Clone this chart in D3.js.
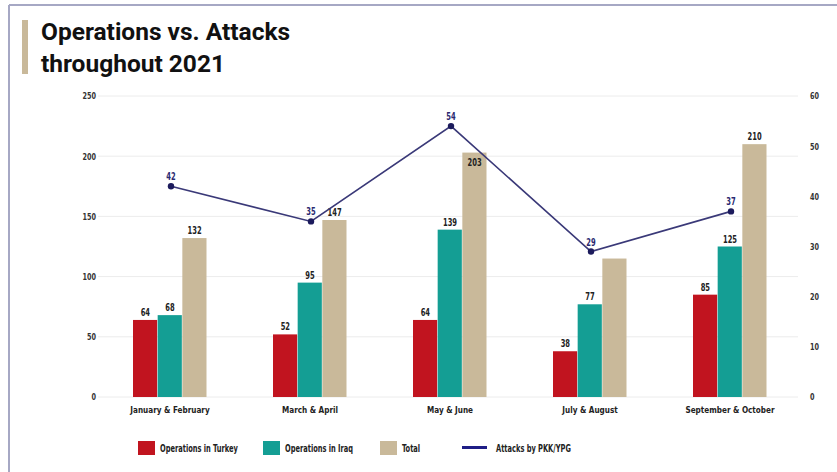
<!DOCTYPE html>
<html><head><meta charset="utf-8">
<script src="https://cdn.jsdelivr.net/npm/d3@7"></script>
<style>
body{margin:0;background:#fff;}
svg{display:block;}
.small{font-family:"DejaVu Sans";font-stretch:condensed;font-weight:bold;}
</style></head><body>
<svg id="c" width="837" height="472"></svg>
<script>
const categories = ["January & February","March & April","May & June","July & August","September & October"];
const opsTurkey = [64,52,64,38,85];
const opsIraq = [68,95,139,77,125];
const total = [132,147,203,115,210];
const attacks = [42,35,54,29,37];
const leftTicks = [0,50,100,150,200,250];
const rightTicks = [0,10,20,30,40,50,60];
const seriesNames = ["Operations in Turkey","Operations in Iraq","Total","Attacks by PKK/YPG"];
const colors = ["#c1141f","#149e94","#c9b99a","#2a2970"];

const svg = d3.select("#c");
function condense(sel, f){
  sel.each(function(){
    const w = this.getComputedTextLength();
    d3.select(this).attr("textLength", w*f).attr("lengthAdjust","spacingAndGlyphs");
  });
}
// frame
svg.append("line").attr("x1",9).attr("x2",837).attr("y1",5).attr("y2",5).attr("stroke","#a6a8c4").attr("stroke-width",2);
svg.append("line").attr("x1",9).attr("x2",9).attr("y1",5).attr("y2",472).attr("stroke","#a6a8c4").attr("stroke-width",2);
// title
svg.append("rect").attr("x",22).attr("y",20).attr("width",6).attr("height",54).attr("fill","#c9b99a");
const title = svg.append("text").attr("font-family","Roboto").attr("font-weight","bold").attr("font-size",24.5).attr("fill","#111");
title.append("tspan").attr("x",41).attr("y",40).text("Operations vs. Attacks");
title.append("tspan").attr("x",41).attr("y",72).text("throughout 2021");

const x0 = 98, x1 = 798, yTop = 96, yBot = 397;
const x = d3.scaleBand().domain(categories).range([100,800]).paddingInner(0).paddingOuter(0);
const xs = d3.scaleBand().domain([0,1,2]).range([0,74]).padding(0);
const yL = d3.scaleLinear().domain([0,250]).range([yBot,yTop]);
const yR = d3.scaleLinear().domain([0,60]).range([yBot,yTop]);

// grid
svg.append("g").selectAll("line").data(leftTicks).join("line")
  .attr("x1",x0).attr("x2",x1).attr("y1",d=>yL(d)).attr("y2",d=>yL(d))
  .attr("stroke","#ececec").attr("stroke-width",1);

const axL = svg.append("g").attr("transform",`translate(${x0-2},0)`)
  .call(d3.axisLeft(yL).tickValues(leftTicks).tickSize(0).tickPadding(0));
axL.select(".domain").remove();
axL.selectAll("text").attr("class","small").attr("font-size",9).attr("fill","#333").call(condense,0.8);

const axR = svg.append("g").attr("transform",`translate(${x1+12},0)`)
  .call(d3.axisRight(yR).tickValues(rightTicks).tickSize(0).tickPadding(0));
axR.select(".domain").remove();
axR.selectAll("text").attr("class","small").attr("font-size",9).attr("fill","#333").call(condense,0.8);

const axB = svg.append("g").attr("transform",`translate(0,${yBot+9})`)
  .call(d3.axisBottom(x).tickSize(0).tickPadding(0));
axB.select(".domain").remove();
axB.selectAll("text").attr("class","small").attr("font-size",9.5).attr("fill","#222").call(condense,0.85);

const cx = i => x(categories[i]) + x.bandwidth()/2 + 1;
const lineAt = px => {
  for (let i=0;i<attacks.length-1;i++){
    const a=cx(i), b=cx(i+1);
    if (px>=a && px<=b){ const t=(px-a)/(b-a); return yR(attacks[i]+(attacks[i+1]-attacks[i])*t); }
  }
  return null;
};

const series = [opsTurkey, opsIraq, total];
const groups = svg.append("g");
series.forEach((vals, si) => {
  const g = groups.append("g");
  const items = vals.map((v,i)=>({v,i,px:x(categories[i]) + x.bandwidth()/2 - 37 + xs(si)}));
  g.selectAll("rect").data(items).join("rect")
    .attr("x",d=>d.px)
    .attr("width",xs.bandwidth()-0.5)
    .attr("y",d=>yL(d.v)).attr("height",d=>yBot-yL(d.v))
    .attr("fill",colors[si]);
  // July & August total carries no label in the original
  const labelled = items.filter(d=>!(si===2 && d.i===3));
  g.selectAll("text").data(labelled).join("text")
    .attr("class","small").attr("font-size",10).attr("fill","#222")
    .attr("text-anchor","middle")
    .attr("x",d=>d.px + xs.bandwidth()/2)
    .attr("y",d=>{
      const above = yL(d.v)-4;
      const ly = lineAt(d.px + xs.bandwidth()/2);
      return (ly!==null && Math.abs(ly-above)<9) ? yL(d.v)+13 : above;
    })
    .text(d=>d.v).call(condense,0.75);
});

// line
svg.append("path").datum(attacks)
  .attr("d", d3.line().x((d,i)=>cx(i)).y(d=>yR(d)))
  .attr("fill","none").attr("stroke","#3a3978").attr("stroke-width",1.6);
svg.append("g").selectAll("circle").data(attacks).join("circle")
  .attr("cx",(d,i)=>cx(i)).attr("cy",d=>yR(d)).attr("r",3.2).attr("fill","#1c1b5c");
svg.append("g").selectAll("text").data(attacks).join("text")
  .attr("class","small").attr("font-size",10).attr("fill","#2a2970").attr("text-anchor","middle")
  .attr("x",(d,i)=>cx(i)).attr("y",d=>yR(d)-6).text(d=>d).call(condense,0.75);

// legend
const legX = [138,263,380,462];
const lg = svg.append("g");
seriesNames.forEach((n,i)=>{
  if(i<3){
    lg.append("rect").attr("x",legX[i]).attr("y",441).attr("width",17).attr("height",14).attr("fill",colors[i]);
  } else {
    lg.append("line").attr("x1",legX[i]).attr("x2",legX[i]+25).attr("y1",447.5).attr("y2",447.5).attr("stroke","#1f1e86").attr("stroke-width",3);
  }
  lg.append("text").attr("class","small").attr("font-size",10).attr("fill","#222")
    .attr("x",legX[i] + (i<3?22:34)).attr("y",451.5).text(n).call(condense,0.74);
});
</script></body></html>
